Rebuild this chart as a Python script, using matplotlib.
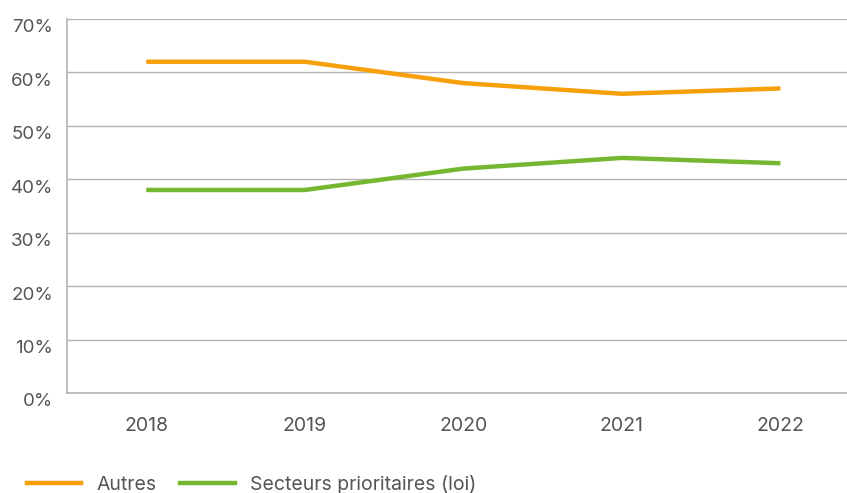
import matplotlib.pyplot as plt
import matplotlib.transforms as mtransforms
from matplotlib.lines import Line2D

# data
years = ["2018", "2019", "2020", "2021", "2022"]
autres = [62, 62, 58, 56, 57]
secteurs = [38, 38, 42, 44, 43]
y_ticks = [0, 10, 20, 30, 40, 50, 60, 70]

ORANGE = "#F7A00A"
GREEN = "#76B732"
GRID = "#b4b4b4"
TEXT = "#555555"

plt.rcParams["font.family"] = ["Inter", "DejaVu Sans"]

fig = plt.figure(figsize=(8.47, 4.93), dpi=100)
ax = fig.add_axes([0.0791, 0.2028, 0.9209, 0.7587])

x = list(range(len(years)))
ax.plot(x, autres, color=ORANGE, linewidth=3.2, solid_capstyle="butt")
ax.plot(x, secteurs, color=GREEN, linewidth=3.2, solid_capstyle="butt")

ax.set_xlim(-0.5, 4.42)
ax.set_ylim(0, 70)
ax.set_yticks(y_ticks)
ax.set_yticklabels([f"{v}%" for v in y_ticks])
ax.set_xticks(x)
ax.set_xticklabels(years)

ax.grid(axis="y", color=GRID, linewidth=1.0)
ax.set_axisbelow(True)
for side in ["top", "right"]:
    ax.spines[side].set_visible(False)
ax.spines["left"].set_color(GRID)
ax.spines["bottom"].set_color(GRID)
ax.spines["left"].set_linewidth(1.2)
ax.spines["bottom"].set_linewidth(1.2)

ax.tick_params(axis="y", length=0, labelsize=13.5, labelcolor=TEXT, pad=10)
ax.tick_params(axis="x", length=0, labelsize=14, labelcolor=TEXT, pad=17)

# y labels sit slightly below their gridlines
shift = mtransforms.ScaledTranslation(0, -5 / 72, fig.dpi_scale_trans)
for lbl in ax.get_yticklabels():
    lbl.set_transform(lbl.get_transform() + shift)

handles = [
    Line2D([], [], color=ORANGE, linewidth=3.2),
    Line2D([], [], color=GREEN, linewidth=3.2),
]
fig.legend(
    handles,
    ["Autres", "Secteurs prioritaires (loi)"],
    loc="lower left",
    bbox_to_anchor=(0.011, -0.038),
    ncol=2,
    frameon=False,
    fontsize=14,
    labelcolor=TEXT,
    handlelength=2.8,
    handletextpad=0.8,
    columnspacing=1.2,
)

fig.savefig("out.png", dpi=100)
